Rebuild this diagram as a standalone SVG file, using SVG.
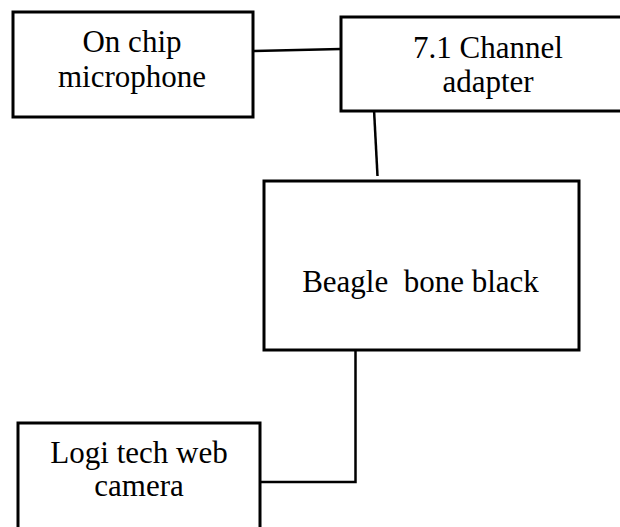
<svg xmlns="http://www.w3.org/2000/svg" width="620" height="527" viewBox="0 0 620 527">
<style>
.box{fill:#fff;stroke:#000;stroke-width:3}
.lbl{font-family:"Liberation Serif","Times New Roman",serif;font-size:31px;fill:#000;text-anchor:middle}
.ln{stroke:#000;stroke-width:2.5;fill:none}
</style>
<rect width="620" height="527" fill="#fff"/>
<g id="connectors">
<line class="ln" x1="253" y1="51" x2="341" y2="49"/>
<line class="ln" x1="373.5" y1="100" x2="377.5" y2="176"/>
<polyline class="ln" points="355.5,350 355.5,482 256,482"/>
</g>
<g id="mic">
<rect class="box" x="13" y="12" width="240" height="105"/>
<text class="lbl" x="132" y="52">On chip</text>
<text class="lbl" x="132" y="87">microphone</text>
</g>
<g id="adapter">
<rect class="box" x="341" y="17" width="290" height="94"/>
<text class="lbl" x="488" y="58">7.1 Channel</text>
<text class="lbl" x="488" y="92">adapter</text>
</g>
<g id="bbb">
<rect class="box" x="264" y="181" width="315" height="169"/>
<text class="lbl" x="420.5" y="292" xml:space="preserve">Beagle  bone black</text>
</g>
<g id="camera">
<rect class="box" x="18" y="423" width="242" height="120"/>
<text class="lbl" x="139" y="463">Logi tech web</text>
<text class="lbl" x="139" y="496">camera</text>
</g>
</svg>
